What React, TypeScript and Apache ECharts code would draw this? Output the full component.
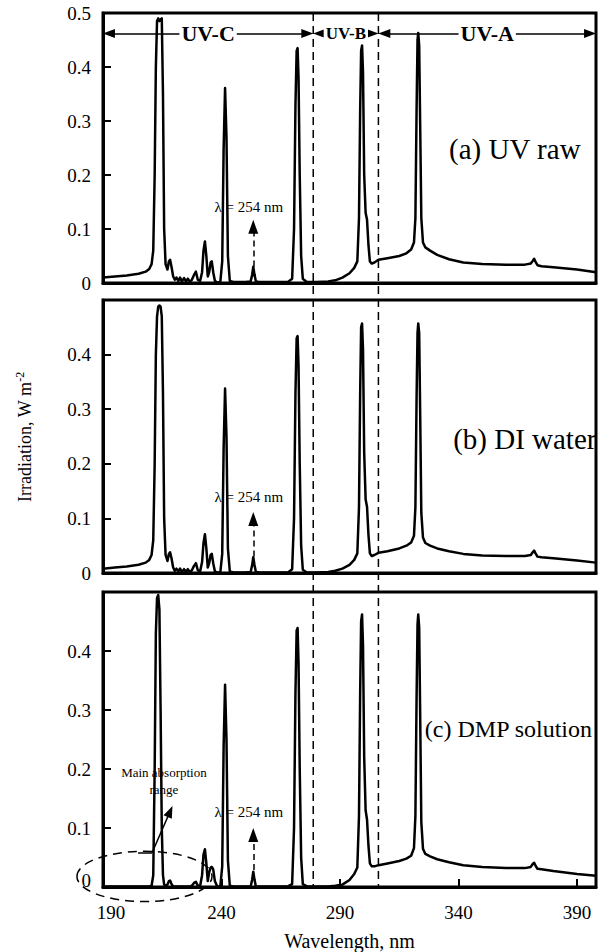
import React, { useEffect, useRef } from 'react';
import * as echarts from 'echarts';

// ---------- data ----------
const wavelengths = [
  190, 195, 200, 205, 208, 209.5, 210.5, 211.2, 211.8, 212.3,
  212.8, 213.3, 213.8, 214.3, 214.8, 215.3, 215.8, 216.4, 217.2, 217.8,
  218.3, 218.9, 219.6, 220.3, 221, 221.8, 222.5, 223.3, 224.2, 225,
  225.8, 226.6, 227.5, 228.4, 229.2, 230, 231, 231.8, 232.4, 233,
  233.6, 234.2, 234.8, 235.4, 235.9, 236.5, 237.2, 238.2, 239.5, 240.3,
  240.9, 241.5, 242.1, 242.7, 243.5, 245, 250, 252.3, 252.9, 253.4,
  253.9, 254.5, 256, 262, 268, 269.8, 270.6, 271.2, 271.7, 272.1,
  272.5, 273, 273.6, 274.3, 276, 280, 285, 288, 291, 294,
  296, 297.3, 298, 298.5, 298.9, 299.3, 299.7, 300.2, 300.8, 301.4,
  302, 302.6, 303.4, 304.5, 306.2, 310, 315, 318, 320, 321.2,
  321.8, 322.3, 322.7, 323, 323.4, 323.8, 324.3, 325, 326, 328,
  331, 336, 342, 350, 360, 368, 370.5, 371.3, 371.9, 372.5,
  373.3, 375, 380, 390, 398,
];

const uvRaw = [
  0.010, 0.012, 0.014, 0.017, 0.021, 0.026, 0.035, 0.06, 0.2, 0.40,
  0.485, 0.49, 0.485, 0.488, 0.49, 0.35, 0.1, 0.035, 0.025, 0.04,
  0.043, 0.03, 0.012, 0.006, 0.01, 0.004, 0.01, 0.003, 0.009, 0.003,
  0.008, 0.002, 0.006, 0.015, 0.021, 0.006, 0.004, 0.02, 0.06, 0.077,
  0.05, 0.012, 0.02, 0.038, 0.04, 0.02, 0.004, 0.001, 0.002, 0.04,
  0.25, 0.361, 0.27, 0.05, 0.004, 0.002, 0.002, 0.003, 0.015, 0.03,
  0.016, 0.003, 0.002, 0.002, 0.002, 0.008, 0.1, 0.33, 0.43, 0.435,
  0.38, 0.2, 0.05, 0.008, 0.002, 0.002, 0.003, 0.005, 0.01, 0.018,
  0.028, 0.04, 0.12, 0.32, 0.43, 0.44, 0.39, 0.2, 0.13, 0.117,
  0.07, 0.04, 0.036, 0.038, 0.043, 0.046, 0.05, 0.055, 0.062, 0.075,
  0.12, 0.32, 0.45, 0.463, 0.44, 0.3, 0.12, 0.075, 0.066, 0.06,
  0.052, 0.044, 0.038, 0.035, 0.034, 0.034, 0.036, 0.041, 0.045, 0.039,
  0.033, 0.031, 0.029, 0.025, 0.02,
];

const diWater = [
  0.008, 0.010, 0.012, 0.015, 0.019, 0.024, 0.033, 0.06, 0.2, 0.40,
  0.47, 0.488, 0.49, 0.488, 0.47, 0.33, 0.1, 0.033, 0.022, 0.035,
  0.038, 0.027, 0.01, 0.004, 0.008, 0.003, 0.008, 0.002, 0.007, 0.002,
  0.007, 0.002, 0.005, 0.013, 0.018, 0.005, 0.003, 0.02, 0.055, 0.071,
  0.045, 0.01, 0.018, 0.033, 0.035, 0.018, 0.003, 0.001, 0.001, 0.035,
  0.23, 0.338, 0.25, 0.045, 0.003, 0.001, 0.001, 0.002, 0.014, 0.029,
  0.015, 0.002, 0.001, 0.001, 0.001, 0.007, 0.1, 0.33, 0.43, 0.434,
  0.38, 0.2, 0.05, 0.006, 0.001, 0.001, 0.002, 0.004, 0.008, 0.015,
  0.024, 0.036, 0.12, 0.33, 0.45, 0.457, 0.41, 0.22, 0.135, 0.121,
  0.07, 0.036, 0.031, 0.033, 0.037, 0.04, 0.045, 0.05, 0.056, 0.068,
  0.12, 0.32, 0.44, 0.457, 0.44, 0.3, 0.11, 0.065, 0.055, 0.05,
  0.045, 0.04, 0.035, 0.032, 0.031, 0.031, 0.033, 0.038, 0.041, 0.036,
  0.03, 0.029, 0.027, 0.023, 0.019,
];

const dmpSolution = [
  0.001, 0.001, 0.001, 0.001, 0.001, 0.001, 0.002, 0.02, 0.2, 0.43,
  0.49, 0.495, 0.47, 0.3, 0.1, 0.02, 0.004, 0.002, 0.004, 0.01,
  0.011, 0.005, 0.001, 0.001, 0.001, 0.001, 0.001, 0.001, 0.001, 0.001,
  0.001, 0.001, 0.002, 0.007, 0.009, 0.002, 0.002, 0.02, 0.055, 0.064,
  0.04, 0.01, 0.025, 0.033, 0.034, 0.03, 0.01, 0.001, 0.001, 0.035,
  0.24, 0.343, 0.25, 0.045, 0.002, 0.001, 0.001, 0.001, 0.012, 0.026,
  0.013, 0.001, 0.001, 0.001, 0.001, 0.005, 0.1, 0.33, 0.435, 0.439,
  0.38, 0.2, 0.05, 0.005, 0.001, 0.001, 0.001, 0.002, 0.004, 0.012,
  0.022, 0.033, 0.12, 0.33, 0.45, 0.462, 0.41, 0.22, 0.13, 0.114,
  0.07, 0.04, 0.035, 0.035, 0.037, 0.04, 0.044, 0.048, 0.053, 0.066,
  0.12, 0.32, 0.445, 0.462, 0.44, 0.3, 0.11, 0.065, 0.056, 0.052,
  0.047, 0.042, 0.037, 0.034, 0.032, 0.032, 0.034, 0.039, 0.041, 0.036,
  0.031, 0.03, 0.027, 0.022, 0.019,
];

const panelLabels = ['(a) UV raw', '(b) DI water', '(c) DMP solution'];
const xTickValues = [190, 240, 290, 340, 390];
const xRange = [190, 398];
const yRange = [0, 0.5];
const bandNames = ['UV-C', 'UV-B', 'UV-A'];
const bandBounds = [190, 278.7, 306.2, 398];
const lambdaWavelength = 253.4;
const lambdaText = 'λ = 254 nm';
const absorptionText = 'Main absorption\nrange';

// ---------- layout ----------
const FONT = '"Liberation Serif", "Times New Roman", serif';
const gridTops = [13, 300, 592];
const gridHeights = [270, 273, 295];
const GRID_LEFT = 103;
const GRID_RIGHT = 8;
const bandArrowY = 0.462;
const arrowInset = 2.5;
const lambdaTextY = [0.14, 0.14, 0.127];
const lambdaArrowTop = [0.104, 0.099, 0.088];
const panelLabelPos = [
  [391.5, 0.248],
  [398.2, 0.246],
  [396.3, 0.268],
];
const panelLabelSize = [29, 29, 24];

export default function App() {
  const ref = useRef<HTMLDivElement>(null);

  useEffect(() => {
    if (!ref.current) return;
    const chart = echarts.init(ref.current, null, { renderer: 'svg' });
    const seriesValues = [uvRaw, diWater, dmpSolution];

    const grids = [0, 1, 2].map((i) => ({
      left: GRID_LEFT,
      right: GRID_RIGHT,
      top: gridTops[i],
      height: gridHeights[i],
      show: true,
      borderColor: '#000',
      borderWidth: 3,
      backgroundColor: 'transparent',
    }));

    const xAxes = [0, 1, 2].map((i) => ({
      type: 'value',
      gridIndex: i,
      min: xRange[0],
      max: xRange[1],
      axisLine: { show: true, lineStyle: { color: '#000', width: 3 } },
      splitLine: { show: false },
      axisTick:
        i === 2
          ? { show: true, inside: true, length: 8, customValues: xTickValues, lineStyle: { color: '#000', width: 2 } }
          : { show: false },
      axisLabel:
        i === 2
          ? {
              show: true,
              customValues: xTickValues,
              fontFamily: FONT,
              fontSize: 19,
              color: '#000',
              margin: 16,
              formatter: (v: number) => (v === xTickValues[0] ? `{l|${v}}` : `${v}`),
              rich: { l: { fontFamily: FONT, fontSize: 19, color: '#000', padding: [0, 0, 0, 16] } },
            }
          : { show: false },
      name: i === 2 ? 'Wavelength, nm' : '',
      nameLocation: 'middle',
      nameGap: 44,
      nameTextStyle: { fontFamily: FONT, fontSize: 20, color: '#000' },
    }));

    const yAxes = [0, 1, 2].map((i) => ({
      type: 'value',
      gridIndex: i,
      min: yRange[0],
      max: yRange[1],
      interval: 0.1,
      axisLine: { show: true, lineStyle: { color: '#000', width: 3 } },
      splitLine: { show: false },
      axisTick: { show: true, inside: true, length: 8, lineStyle: { color: '#000', width: 2 } },
      axisLabel: {
        fontFamily: FONT,
        fontSize: 19,
        color: '#000',
        margin: 12,
        formatter: (v: number) =>
          i > 0 && v > 0.45 ? '' : v === 0 ? (i === 2 ? '{z|0}' : '0') : v.toFixed(1),
        rich: { z: { fontFamily: FONT, fontSize: 19, color: '#000', padding: [0, 0, 14, 0] } },
      },
    }));

    const arrowLine = { color: '#000', width: 1.5, type: 'solid' };
    const bandArrows = bandNames.map((_, k) => [
      {
        coord: [bandBounds[k] + arrowInset, bandArrowY],
        symbol: 'triangle',
        symbolSize: [9, 12],
        lineStyle: arrowLine,
      },
      { coord: [bandBounds[k + 1] - arrowInset, bandArrowY], symbol: 'triangle', symbolSize: [9, 12] },
    ]);

    const lambdaArrow = (i: number) => [
      {
        coord: [lambdaWavelength, 0.012],
        symbol: 'none',
        lineStyle: { color: '#000', width: 1.5, type: [6, 4] },
      },
      { coord: [lambdaWavelength, lambdaArrowTop[i]], symbol: 'triangle', symbolSize: [10, 14] },
    ];

    const absorptionArrow = [
      [
        { coord: [204.8, 0.058], symbol: 'none', lineStyle: arrowLine },
        { coord: [210.7, 0.058], symbol: 'none' },
      ],
      [
        { coord: [210.7, 0.058], symbol: 'none', lineStyle: arrowLine },
        { coord: [218.3, 0.128], symbol: 'triangle', symbolSize: [9, 12] },
      ],
    ];

    const series = [0, 1, 2].map((i) => {
      const lines: any[] = [lambdaArrow(i)];
      if (i === 0) lines.push(...bandArrows);
      if (i === 2) lines.push(...absorptionArrow);
      return {
        type: 'line',
        xAxisIndex: i,
        yAxisIndex: i,
        data: wavelengths.map((w, j) => [w, seriesValues[i][j]]),
        showSymbol: false,
        symbol: 'none',
        silent: true,
        lineStyle: { color: '#000', width: 2.5, join: 'round' },
        markLine: {
          silent: true,
          animation: false,
          symbol: ['none', 'none'],
          label: { show: false },
          lineStyle: { color: '#000', width: 1.5, type: 'solid' },
          data: lines,
        },
      };
    });

    chart.setOption({
      animation: false,
      backgroundColor: '#fff',
      grid: grids,
      xAxis: xAxes,
      yAxis: yAxes,
      series,
    });

    const px = (i: number, x: number, y: number) =>
      chart.convertToPixel({ gridIndex: i } as any, [x, y]) as number[];

    const graphics: any[] = [];

    // dashed band boundaries spanning all panels
    [bandBounds[1], bandBounds[2]].forEach((b) => {
      const top = px(0, b, yRange[1]);
      const bot = px(2, b, yRange[0]);
      graphics.push({
        type: 'line',
        z: 50,
        silent: true,
        shape: { x1: top[0], y1: top[1], x2: bot[0], y2: bot[1] },
        style: { stroke: '#000', lineWidth: 1.5, lineDash: [8, 5] },
      });
    });

    // band labels
    bandNames.forEach((n, k) => {
      const p = px(0, (bandBounds[k] + bandBounds[k + 1]) / 2, bandArrowY);
      graphics.push({
        type: 'text',
        z: 100,
        x: p[0],
        y: p[1],
        style: {
          text: n,
          font: `bold ${k === 1 ? 17 : 22}px ${FONT}`,
          fill: '#000',
          align: 'center',
          verticalAlign: 'middle',
          backgroundColor: '#fff',
          padding: [0, 2],
        },
      });
    });

    // lambda labels and panel labels
    [0, 1, 2].forEach((i) => {
      const p = px(i, 251.5, lambdaTextY[i]);
      graphics.push({
        type: 'text',
        z: 100,
        x: p[0],
        y: p[1],
        style: { text: lambdaText, font: `15px ${FONT}`, fill: '#000', align: 'center', verticalAlign: 'middle' },
      });
      const q = px(i, panelLabelPos[i][0], panelLabelPos[i][1]);
      graphics.push({
        type: 'text',
        z: 100,
        x: q[0],
        y: q[1],
        style: {
          text: panelLabels[i],
          font: `${panelLabelSize[i]}px ${FONT}`,
          fill: '#000',
          align: 'right',
          verticalAlign: 'middle',
        },
      });
    });

    // absorption annotation
    const ap = px(2, 215.7, 0.18);
    graphics.push({
      type: 'text',
      z: 100,
      x: ap[0],
      y: ap[1],
      style: {
        text: absorptionText,
        font: `13px ${FONT}`,
        lineHeight: 16.5,
        fill: '#000',
        align: 'center',
        verticalAlign: 'middle',
      },
    });
    const ec = px(2, 207.5, 0.018);
    const ee = px(2, 207.5 + 28.5, 0.018 + 0.0426);
    graphics.push({
      type: 'ellipse',
      z: 60,
      silent: true,
      shape: { cx: ec[0], cy: ec[1], rx: Math.abs(ee[0] - ec[0]), ry: Math.abs(ee[1] - ec[1]) },
      style: { fill: 'none', stroke: '#000', lineWidth: 1.5, lineDash: [9, 6] },
    });

    // y-axis title
    graphics.push({
      type: 'text',
      z: 100,
      x: 25,
      y: 437,
      rotation: Math.PI / 2,
      style: {
        text: '{a|Irradiation, W m}{b|-2}',
        align: 'center',
        verticalAlign: 'middle',
        rich: {
          a: { fontFamily: FONT, fontSize: 18, lineHeight: 22, fill: '#000', color: '#000' },
          b: { fontFamily: FONT, fontSize: 12, lineHeight: 22, verticalAlign: 'top', fill: '#000', color: '#000' },
        },
      },
    });

    chart.setOption({ graphic: { elements: graphics } });

    return () => chart.dispose();
  }, []);

  return (
    <div
      ref={ref}
      style={{ position: 'fixed', left: 0, top: 0, width: 604, height: 952, background: '#fff' }}
    />
  );
}
